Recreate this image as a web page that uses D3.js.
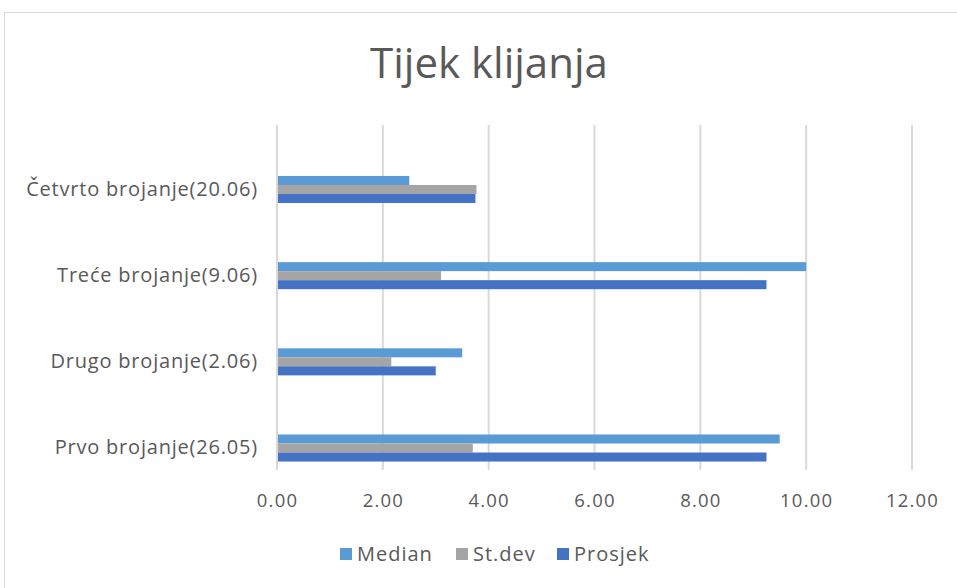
<!DOCTYPE html>
<html><head><meta charset="utf-8">
<script src="https://cdn.jsdelivr.net/npm/d3@7"></script>
<style>body{margin:0;background:#fff;}svg{display:block;font-family:"Open Sans",sans-serif;}</style>
</head><body><svg id="c" width="957" height="588"></svg>
<script>
const categories = ["Prvo brojanje(26.05)", "Drugo brojanje(2.06)", "Treće brojanje(9.06)", "Četvrto brojanje(20.06)"];
const seriesNames = ["Median", "St.dev", "Prosjek"];
const median = [9.5, 3.5, 10.0, 2.5];
const stdev = [3.7, 2.16, 3.1, 3.77];
const prosjek = [9.25, 3.0, 9.25, 3.75];
const xTicks = [0, 2, 4, 6, 8, 10, 12];
const colors = ["#5B9BD5", "#A5A5A5", "#4472C4"];
const seriesValues = [median, stdev, prosjek];
const FF = "'Open Sans',sans-serif";

const svg = d3.select("#c");
svg.append("rect").attr("x",4.5).attr("y",12.5).attr("width",1000).attr("height",1000)
  .attr("fill","#fff").attr("stroke","#d9d9d9");

svg.append("text").attr("x",489).attr("y",78).attr("text-anchor","middle")
  .attr("font-size",42).attr("fill","#595959").text("Tijek klijanja");

const x = d3.scaleLinear().domain([0,12]).range([277,912]);
const y = d3.scaleBand().domain(categories.slice().reverse()).range([146.4,491.1]).paddingInner(0.686).paddingOuter(0.343);
const ySub = d3.scaleBand().domain(seriesNames).range([0,y.bandwidth()]);

svg.append("g").selectAll("line").data(xTicks).join("line")
  .attr("x1",d=>x(d)).attr("x2",d=>x(d)).attr("y1",125).attr("y2",470)
  .attr("stroke","#d9d9d9").attr("stroke-width",2);

seriesNames.forEach((s,i)=>{
  svg.append("g").selectAll("rect").data(categories).join("rect")
    .attr("x",x(0)+1).attr("y",(c)=>y(c)+ySub(s))
    .attr("width",(c,j)=>x(seriesValues[i][j])-x(0)-1)
    .attr("height",ySub.bandwidth())
    .attr("fill",colors[i]);
});

const xa = svg.append("g").attr("transform","translate(0,470)")
  .call(d3.axisBottom(x).tickValues(xTicks).tickFormat(d3.format(".2f")).tickSize(0).tickPadding(24));
xa.select(".domain").remove();
xa.selectAll("text").attr("font-size",18.5).attr("letter-spacing",1.2).attr("fill","#595959").attr("font-family",FF);

const ya = svg.append("g").attr("transform","translate(277,0)")
  .call(d3.axisLeft(y).tickSize(0).tickPadding(19));
ya.select(".domain").remove();
ya.selectAll("text").attr("font-size",20).attr("letter-spacing",0.8).attr("fill","#595959").attr("font-family",FF);

const legX = [340, 456, 557];
const lg = svg.append("g");
seriesNames.forEach((s,i)=>{
  lg.append("rect").attr("x",legX[i]).attr("y",548).attr("width",12).attr("height",12).attr("fill",colors[i]);
  lg.append("text").attr("x",legX[i]+17).attr("y",561).attr("font-size",20).attr("letter-spacing",1.0).attr("fill","#595959").text(s);
});
</script></body></html>
